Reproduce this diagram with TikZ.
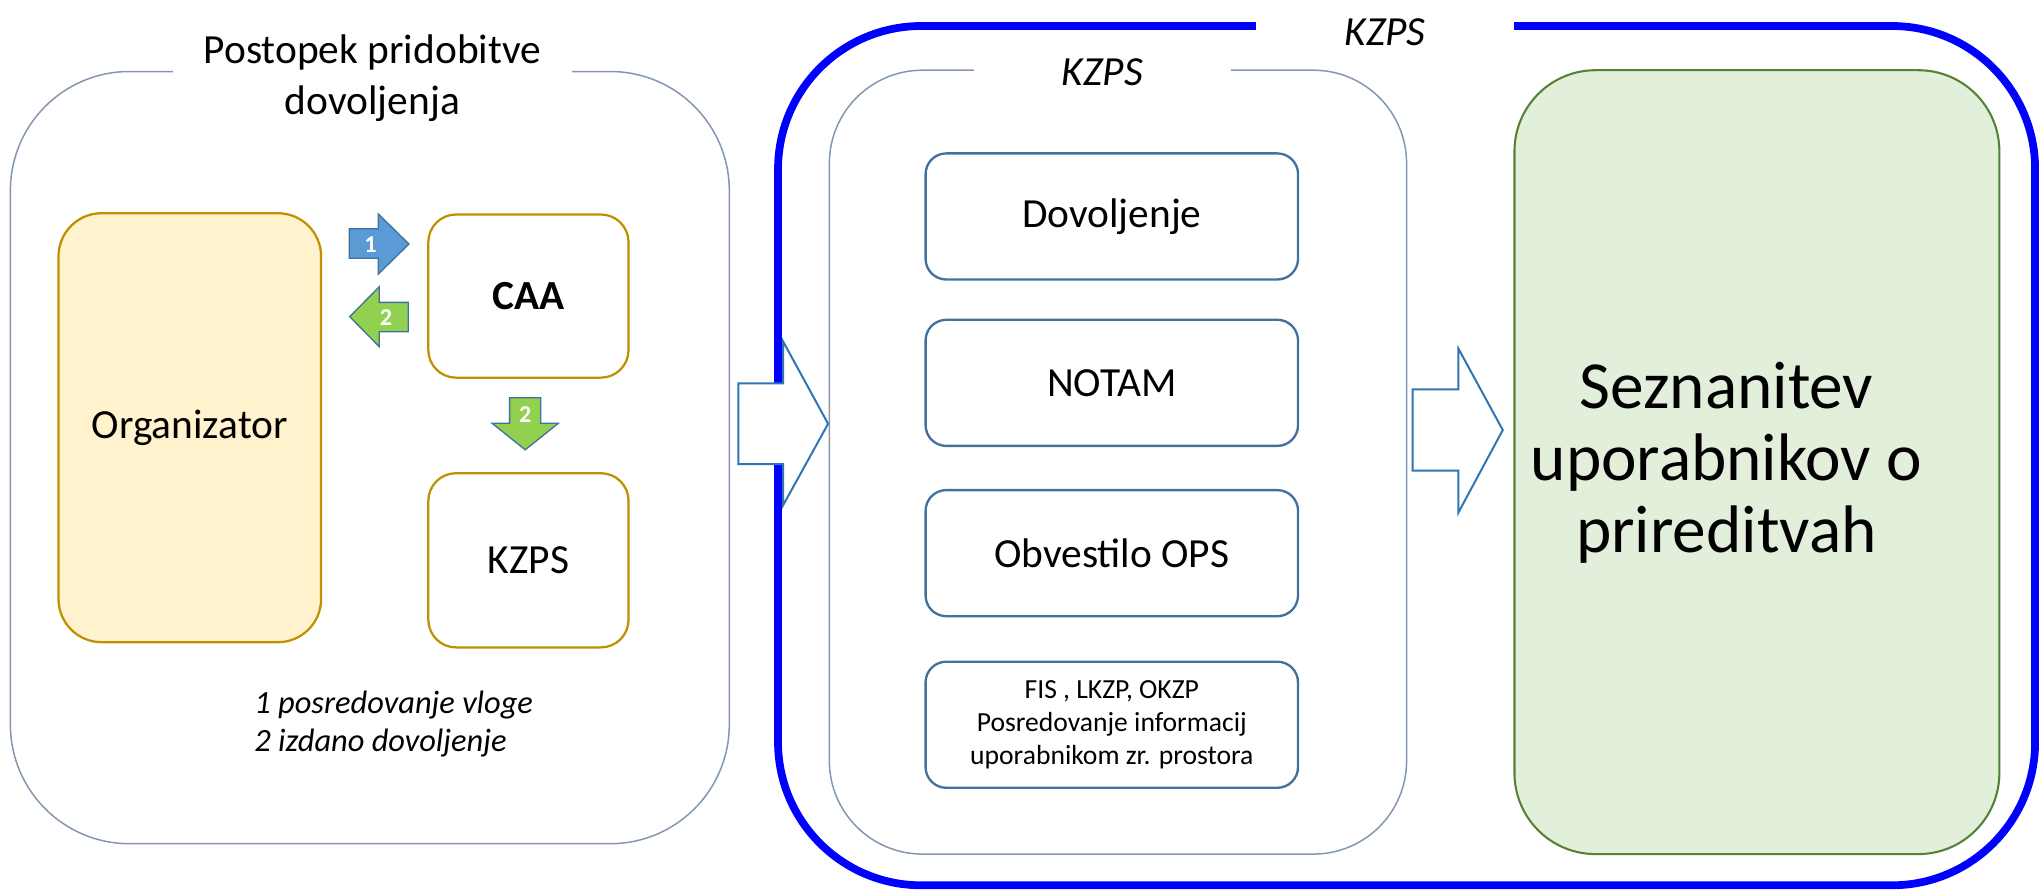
\documentclass[tikz,border=0pt]{standalone}
\usepackage{fontspec}
\setmainfont{Carlito}

\definecolor{framegray}{HTML}{8497B0}
\definecolor{gold}{HTML}{BF9000}
\definecolor{orgfill}{HTML}{FFF2CC}
\definecolor{steel}{HTML}{41719C}
\definecolor{arrblue}{HTML}{5B9BD5}
\definecolor{arrgreen}{HTML}{92D050}
\definecolor{hollow}{HTML}{2E75B6}
\definecolor{greenfill}{HTML}{E2EFDA}
\definecolor{greenline}{HTML}{548235}

\newcommand{\fsz}[2]{\fontsize{#1}{#2}\selectfont}
\newcommand{\vu}{0.7535pt}

\tikzset{
  frame/.style={draw=framegray, line width=0.87pt, inner sep=0pt},
  goldbox/.style={draw=gold, line width=1.3pt, inner sep=0pt,
    rounded corners=16pt, minimum width=154*\vu},
  infobox/.style={draw=steel, line width=1.35pt, rounded corners=12pt,
    minimum width=286.5*\vu, minimum height=97*\vu, inner sep=0pt, align=center},
  smallarrow/.style={draw=steel, line width=0.77pt, line join=miter},
  arrlabel/.style={text=white, inner sep=0pt, font=\fsz{14pt}{17pt}\bfseries},
  bigarrow/.style={draw=hollow, fill=white, line width=1.15pt, line join=miter},
  gaptitle/.style={fill=white, inner xsep=0pt, inner ysep=3pt, align=center}
}

\begin{document}
\begin{tikzpicture}[x=0.7535pt, y=-0.7535pt, font=\fsz{24pt}{29.3pt}]
    \useasboundingbox (0, 0) rectangle (1568.5, 686.2);

    % left part: postopek
    \node[frame, rounded corners=69pt, minimum width=553*\vu,
        minimum height=594*\vu] (postopek) at (284.5, 352) {};
    \node[gaptitle, minimum width=307*\vu, anchor=base] (postopektitle)
        at (286.5, 88) {Postopek pridobitve\\dovoljenja};

    \node[draw=gold, fill=orgfill, line width=1.3pt, rounded corners=25pt,
        minimum width=202*\vu, minimum height=330*\vu] (org) at (146, 329)
        {Organizator};
    \node[goldbox, minimum height=125.5*\vu, font=\fsz{24pt}{29.3pt}\bfseries]
        (caa) at (406.5, 227.75) {CAA};
    \node[goldbox, minimum height=134*\vu] (kzpsa) at (406.5, 431) {KZPS};

    % block arrows 1 and 2
    \draw[smallarrow, fill=arrblue] (268.7, 176) -- (291, 176) -- (291, 164.6)
        -- (314.6, 187.7) -- (291, 210.8) -- (291, 198.7) -- (268.7, 198.7) -- cycle;
    \node[arrlabel] (numvloga) at (285, 188) {1};
    \draw[smallarrow, fill=arrgreen] (314, 232.6) -- (291.8, 232.6) -- (291.8, 220.5)
        -- (269, 243.6) -- (291.8, 266.7) -- (291.8, 255.2) -- (314, 255.2) -- cycle;
    \node[arrlabel] (numdovA) at (297, 244) {2};
    \draw[smallarrow, fill=arrgreen] (392, 306) -- (392, 325.6) -- (378.5, 325.6)
        -- (404, 346) -- (429.5, 325.6) -- (416, 325.6) -- (416, 306) -- cycle;
    \node[arrlabel] (numdovB) at (404, 319) {2};

    \node[align=left, anchor=base west, font=\fsz{18.8pt}{21.9pt}\itshape]
        (legend) at (191, 578) {1 posredovanje vloge\\2 izdano dovoljenje};

    % right part: KZPS
    \node[draw=blue, line width=4.5pt, rounded corners=83pt,
        minimum width=967*\vu, minimum height=661*\vu, inner sep=0pt]
        (kzpsouter) at (1082, 350.5) {};
    \node[frame, rounded corners=54pt, minimum width=444*\vu,
        minimum height=603*\vu] (kzpsinner) at (860, 355.5) {};

    \node[infobox] (dov) at (855.25, 166.5) {Dovoljenje};
    \node[infobox] (notam) at (855.25, 294.5) {NOTAM};
    \node[infobox] (ops) at (855.25, 425.5) {Obvestilo OPS};
    \node[infobox, font=\fsz{16pt}{19.3pt}] (fis) at (855.25, 557.5)
        {FIS , LKZP, OKZP\\Posredovanje informacij\\uporabnikom zr. prostora};

    \node[draw=greenline, fill=greenfill, line width=1.2pt, rounded corners=47pt,
        minimum width=373*\vu, minimum height=603*\vu, inner sep=0pt]
        (users) at (1351.5, 355.5) {};
    \node[align=center, font=\fsz{39pt}{42pt}] (userstext) at (1328, 356)
        {Seznanitev\\uporabnikov o\\prireditvah};

    % hollow arrows
    \draw[bigarrow] (568, 294.9) -- (602.5, 294.9) -- (602.5, 262.8) -- (637, 326)
        -- (602.5, 388.5) -- (602.5, 357) -- (568, 357) -- cycle;
    \draw[bigarrow] (1086.7, 299.5) -- (1121.8, 299.5) -- (1121.8, 268) -- (1156, 330.8)
        -- (1121.8, 394.4) -- (1121.8, 362) -- (1086.7, 362) -- cycle;

    \node[gaptitle, minimum width=199*\vu, font=\fsz{24pt}{29.3pt}\itshape,
        anchor=base] (outertitle) at (1065.5, 35) {KZPS};
    \node[gaptitle, minimum width=198*\vu, font=\fsz{24pt}{29.3pt}\itshape,
        anchor=base] (innertitle) at (848, 65.5) {KZPS};
\end{tikzpicture}
\end{document}
